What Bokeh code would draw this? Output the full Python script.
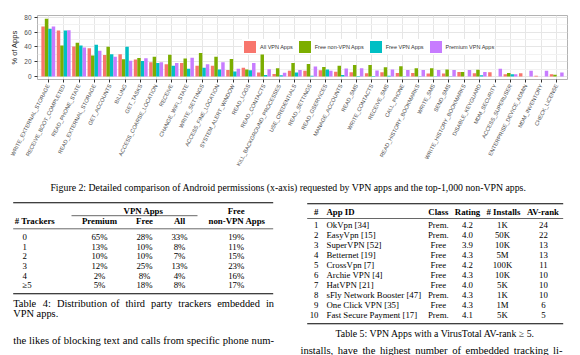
import math
from bokeh.plotting import figure
from bokeh.models import Range1d, FactorRange, Legend, LegendItem, ColumnDataSource, FixedTicker
from bokeh.transform import dodge
from bokeh.layouts import column
from bokeh.embed import file_html
from bokeh.resources import INLINE
from bokeh.core.properties import value

# ---------------- data ----------------
permissions = [
    "WRITE_EXTERNAL_STORAGE", "RECEIVE_BOOT_COMPLETED", "READ_PHONE_STATE",
    "READ_EXTERNAL_STORAGE", "GET_ACCOUNTS", "BILLING", "GET_TASKS",
    "ACCESS_COARSE_LOCATION", "RECEIVE", "CHANGE_WIFI_STATE", "WRITE_SETTINGS",
    "ACCESS_FINE_LOCATION", "SYSTEM_ALERT_WINDOW", "READ_LOGS", "READ_CONTACTS",
    "KILL_BACKGROUND_PROCESSES", "USE_CREDENTIALS", "READ_SETTINGS",
    "READ_GSERVICES", "MANAGE_ACCOUNTS", "READ_SMS", "WRITE_CONTACTS",
    "RECEIVE_SMS", "CALL_PHONE", "READ_HISTORY_BOOKMARKS", "WRITE_SMS",
    "SEND_SMS", "WRITE_HISTORY_BOOKMARKS", "DISABLE_KEYGUARD", "MDM_SECURITY",
    "ACCESS_SUPERUSER", "ENTERPRISE_DEVICE_ADMIN", "MDM_INVENTORY", "CHECK_LICENSE",
]
all_vpn = [67.4, 62.0, 40.6, 38.0, 28.9, 30.0, 23.0, 19.2, 16.7, 18.4, 14.6, 14.6,
           9.0, 12.0, 5.5, 3.4, 7.8, 7.8, 8.5, 6.5, 5.9, 4.6, 5.9, 5.0, 5.0, 4.2,
           4.2, 6.3, 4.6, 6.0, 3.3, 4.6, 1.0, 3.0]
free_non_vpn = [77.8, 42.0, 45.6, 28.5, 40.2, 23.4, 25.0, 26.8, 29.3, 24.3, 31.8,
                26.8, 23.7, 9.6, 29.6, 11.3, 18.2, 17.0, 12.8, 14.6, 15.5, 15.5,
                12.6, 13.8, 11.3, 11.3, 9.6, 6.3, 9.2, 0.0, 5.0, 0.0, 0.0, 2.5]
free_vpn = [64.4, 62.0, 41.8, 43.0, 30.0, 40.0, 21.0, 18.4, 14.6, 10.5, 12.0, 9.5,
            6.8, 8.4, 2.0, 1.7, 5.6, 1.0, 9.7, 2.0, 0.8, 0.8, 1.0, 0.5, 0.5, 0.5,
            0.5, 0.0, 1.7, 0.0, 3.0, 0.0, 0.0, 0.0]
premium_vpn = [67.4, 62.3, 39.3, 34.7, 26.8, 21.3, 24.7, 19.2, 18.4, 25.4, 16.7,
               19.4, 10.7, 18.2, 9.9, 5.2, 8.8, 13.7, 7.8, 11.0, 11.3, 8.2, 9.5,
               8.8, 8.8, 8.8, 8.8, 8.8, 6.3, 10.5, 3.0, 8.0, 8.0, 5.4]
series_names = ["All VPN Apps", "Free non-VPN Apps", "Free VPN Apps", "Premium VPN Apps"]
series_colors = ["#F8766D", "#7CAE00", "#00BFC4", "#C77CFF"]
y_ticks = [0, 20, 40, 60, 80]

figure_caption = ("Figure 2: Detailed comparison of Android permissions (x-axis) requested "
                  "by VPN apps and the top-1,000 non-VPN apps.")

# Table 4
t4_trackers = ["0", "1", "2", "3", "4", "\u22655"]
t4_premium = ["65%", "13%", "10%", "12%", "2%", "5%"]
t4_free = ["28%", "10%", "10%", "25%", "8%", "18%"]
t4_all = ["33%", "8%", "7%", "13%", "4%", "8%"]
t4_nonvpn = ["19%", "11%", "15%", "23%", "16%", "17%"]
t4_caption = ["Table 4: Distribution of third party trackers embedded in", "VPN apps."]
left_body = "the likes of blocking text and calls from specific phone num-"

# Table 5
t5_num = ["1", "2", "3", "4", "5", "6", "7", "8", "9", "10"]
t5_app = ["OkVpn [34]", "EasyVpn [15]", "SuperVPN [52]", "Betternet [19]", "CrossVpn [7]",
          "Archie VPN [4]", "HatVPN [21]", "sFly Network Booster [47]", "One Click VPN [35]",
          "Fast Secure Payment [17]"]
t5_class = ["Prem.", "Prem.", "Free", "Free", "Free", "Free", "Free", "Prem.", "Free", "Prem."]
t5_rating = ["4.2", "4.0", "3.9", "4.3", "4.2", "4.3", "4.0", "4.3", "4.3", "4.1"]
t5_installs = ["1K", "50K", "10K", "5M", "100K", "10K", "5K", "1K", "1M", "5K"]
t5_avrank = ["24", "22", "13", "13", "11", "10", "10", "10", "6", "5"]
t5_caption = "Table 5: VPN Apps with a VirusTotal AV-rank \u2265 5."
right_body = "installs, have the highest number of embedded tracking li-"

# ---------------- chart ----------------
W = 580
H1 = 171
H2 = 355 - H1
SANS = "Liberation Sans"
SERIF = "Liberation Serif"

src = ColumnDataSource(dict(cat=permissions, s0=all_vpn, s1=free_non_vpn,
                            s2=free_vpn, s3=premium_vpn))

p = figure(width=W, height=H1,
           x_range=FactorRange(factors=permissions, range_padding=0.2,
                               range_padding_units="absolute"),
           y_range=Range1d(-3.9, 82.2),
           output_backend="svg", toolbar_location=None,
           min_border_left=37, min_border_right=13, min_border_top=15,
           min_border_bottom=88)
p.frame_align = False
p.background_fill_color = "white"
p.border_fill_color = "white"
p.outline_line_color = "#B3B3B3"
p.outline_line_width = 1

bw = 0.225
offsets = [-1.5 * bw, -0.5 * bw, 0.5 * bw, 1.5 * bw]
renderers = []
for i, (name, col) in enumerate(zip(series_names, series_colors)):
    r = p.vbar(x=dodge("cat", offsets[i], range=p.x_range), top="s%d" % i, bottom=0,
               width=bw, source=src, fill_color=col, line_color=None)
    renderers.append(r)

p.yaxis.ticker = FixedTicker(ticks=y_ticks, minor_ticks=[10, 30, 50, 70])
p.ygrid.grid_line_color = "#E6E6E6"
p.ygrid.minor_grid_line_color = "#F2F2F2"
p.xgrid.grid_line_color = "#E6E6E6"

for ax in (p.xaxis, p.yaxis):
    ax.axis_line_color = None
    ax.major_tick_line_color = "#333333"
    ax.major_tick_out = 3
    ax.major_tick_in = 0
    ax.minor_tick_line_color = None
    ax.major_label_text_color = "#4D4D4D"
    ax.major_label_text_font = SANS
    ax.major_label_standoff = 2

p.yaxis.major_label_text_font_size = "6.5px"
p.yaxis.axis_label = "% of Apps"
p.yaxis.axis_label_text_font = SANS
p.yaxis.axis_label_text_font_size = "7.5px"
p.yaxis.axis_label_text_font_style = "normal"
p.yaxis.axis_label_text_color = "#222222"
p.yaxis.axis_label_standoff = 2

p.xaxis.major_label_orientation = math.radians(63)
p.xaxis.major_label_text_font_size = "5.5px"

legend = Legend(items=[LegendItem(label=n, renderers=[r]) for n, r in zip(series_names, renderers)],
                orientation="horizontal", location=(205, 25), padding=5, margin=0,
                spacing=4, glyph_width=15, glyph_height=15, label_standoff=3,
                label_text_font=SANS, label_text_font_size="5.5px",
                label_text_color="#333333", background_fill_color="white",
                background_fill_alpha=1.0, border_line_color=None)
p.add_layout(legend)

# ---------------- page text / tables ----------------
q = figure(width=W, height=H2, x_range=Range1d(0, W), y_range=Range1d(355, H1),
           output_backend="svg", toolbar_location=None,
           x_axis_type=None, y_axis_type=None,
           min_border_left=0, min_border_right=0, min_border_top=0, min_border_bottom=0)
q.frame_align = False
q.outline_line_color = None
q.xgrid.visible = False
q.ygrid.visible = False


def T(x, y, s, size="8.5px", align="left", bold=False):
    q.text(x=[x], y=[y], text=[s], text_font=value(SERIF), text_font_size=size,
           text_align=align, text_baseline="middle", text_color="black",
           text_font_style="bold" if bold else "normal")


# approximate Times / Liberation Serif advance widths (1/1000 em) for justification
_TW = dict(zip("abcdefghijklmnopqrstuvwxyz",
               [444, 500, 444, 500, 444, 333, 500, 500, 278, 278, 500, 278, 778,
                500, 500, 500, 500, 333, 389, 278, 500, 500, 722, 500, 500, 444]))
_TW.update({"T": 611, "V": 722, "P": 556, "N": 722, "A": 722, ":": 278, "-": 333,
            ",": 250, ".": 250})
for d in "0123456789":
    _TW[d] = 500


def word_w(w, px):
    return sum(_TW.get(c, 500) for c in w) / 1000.0 * px


def justify(x0, x1, y, s, px):
    words = s.split(" ")
    widths = [word_w(w, px) for w in words]
    gap = (x1 - x0 - sum(widths)) / (len(words) - 1)
    x = x0
    for w, ww in zip(words, widths):
        T(x, y, w, "%.2fpx" % px, "left")
        x += ww + gap


def rule(x0, x1, y, w=1.0):
    q.segment(x0=[x0], y0=[y], x1=[x1], y1=[y], line_color="black", line_width=w)


FIGCAP = "9.8px"
CAP = "9.8px"
TB = "8.8px"
T(288, 187, figure_caption, size=FIGCAP, align="center")

# Table 4
rule(12.7, 272.7, 202.3, 1.1)
T(143, 210.5, "VPN Apps", TB, "center", True)
T(235.7, 210.5, "Free", TB, "center", True)
rule(71, 197, 215.2, 0.6)
T(14.3, 220.5, "# Trackers", TB, "left", True)
for x, s in zip([99, 144, 179, 236.5], ["Premium", "Free", "All", "non-VPN Apps"]):
    T(x, 220.5, s, TB, "center", True)
rule(12.7, 272.7, 228.3, 0.6)
for i in range(len(t4_trackers)):
    yy = 236.3 + 9.7 * i
    T(22, yy, t4_trackers[i], TB, "left")
    T(99, yy, t4_premium[i], TB, "center")
    T(144, yy, t4_free[i], TB, "center")
    T(179, yy, t4_all[i], TB, "center")
    T(235.7, yy, t4_nonvpn[i], TB, "center")
rule(12.7, 272.7, 293.3, 1.1)
justify(12.7, 273.5, 303.3, t4_caption[0], 10.4)
T(12.7, 312.9, t4_caption[1], "10.4px", "left")
justify(12.7, 273.5, 340, left_body, 10.6)

# Table 5
rule(306.7, 562.7, 203.3, 1.1)
T(318, 211, "#", TB, "right", True)
T(326, 211, "App ID", TB, "left", True)
for x, s in zip([437.8, 467, 503, 542.5], ["Class", "Rating", "# Installs", "AV-rank"]):
    T(x, 211, s, TB, "center", True)
rule(306.7, 562.7, 218, 0.6)
for i in range(len(t5_num)):
    yy = 224.8 + 10 * i
    T(318, yy, t5_num[i], TB, "right")
    T(326, yy, t5_app[i], TB, "left")
    T(437.8, yy, t5_class[i], TB, "center")
    T(467, yy, t5_rating[i], TB, "center")
    T(502, yy, t5_installs[i], TB, "center")
    T(543, yy, t5_avrank[i], TB, "center")
rule(306.7, 562.7, 323.3, 1.1)
T(435, 332.7, t5_caption, CAP, "center")
justify(300, 562, 349.5, right_body, 10.6)

layout = column(p, q, spacing=0)
open("out.html", "w").write(file_html(layout, INLINE))
